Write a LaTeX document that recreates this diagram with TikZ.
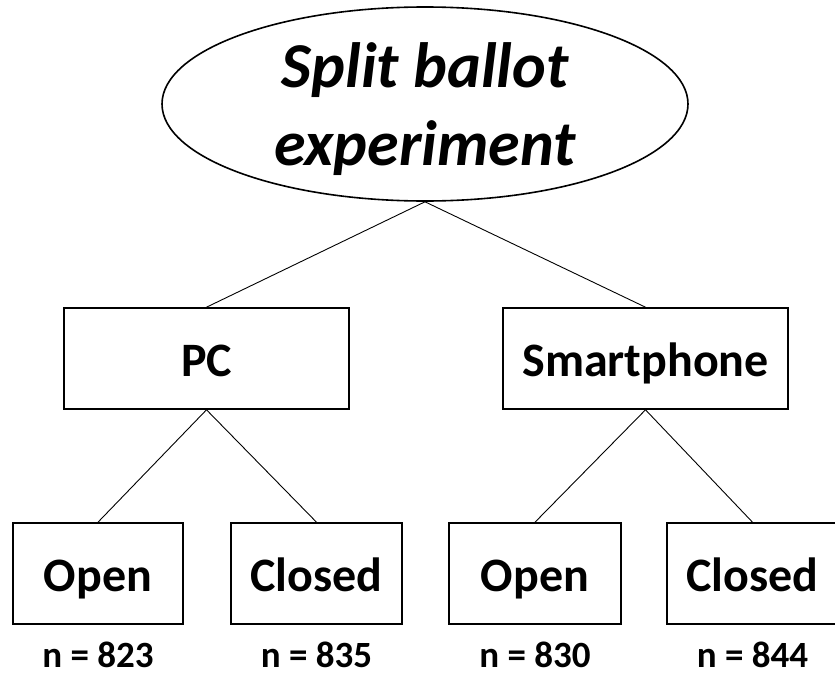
\documentclass[tikz,border=0pt]{standalone}
\usepackage{fontspec}
\setmainfont{Carlito}
\usetikzlibrary{shapes.geometric}
\begin{document}
\begin{tikzpicture}[x=1pt,y=-1pt,
    box/.style={draw,rectangle,line width=1.6pt,inner sep=0pt,minimum height=101pt,
      font=\fontsize{48}{58}\selectfont\bfseries,text height=35pt,text depth=0pt},
    count/.style={inner sep=0pt,font=\fontsize{37}{44}\selectfont\bfseries},
    link/.style={line width=0.9pt}]
\useasboundingbox (0,0) rectangle (835,672);

\node[draw,ellipse,line width=1.6pt,inner sep=0pt,minimum width=526pt,minimum height=194pt,
  align=center,font=\fontsize{64}{78}\selectfont\bfseries\itshape,
  text height=122pt,text depth=0pt] (ballot) at (425,104) {Split ballot\\experiment};

\node[box,minimum width=285pt] (pc) at (206.5,358.5) {PC};
\node[box,minimum width=285pt] (phone) at (645.5,358.5) {Smartphone};

\node[box,minimum width=170pt] (pcopen) at (98,573.5) {Open};
\node[box,minimum width=171pt] (pcclosed) at (316.5,573.5) {Closed};
\node[box,minimum width=172pt] (phopen) at (535,573.5) {Open};
\node[box,minimum width=171pt] (phclosed) at (752.5,573.5) {Closed};

\node[count] (n1) at (98,655) {n = 823};
\node[count] (n2) at (316.5,655) {n = 835};
\node[count] (n3) at (535,655) {n = 830};
\node[count] (n4) at (752.5,655) {n = 844};

\draw[link] (ballot.south) -- (pc.north);
\draw[link] (ballot.south) -- (phone.north);
\draw[link] (pc.south) -- (pcopen.north);
\draw[link] (pc.south) -- (pcclosed.north);
\draw[link] (phone.south) -- (phopen.north);
\draw[link] (phone.south) -- (phclosed.north);
\end{tikzpicture}
\end{document}
